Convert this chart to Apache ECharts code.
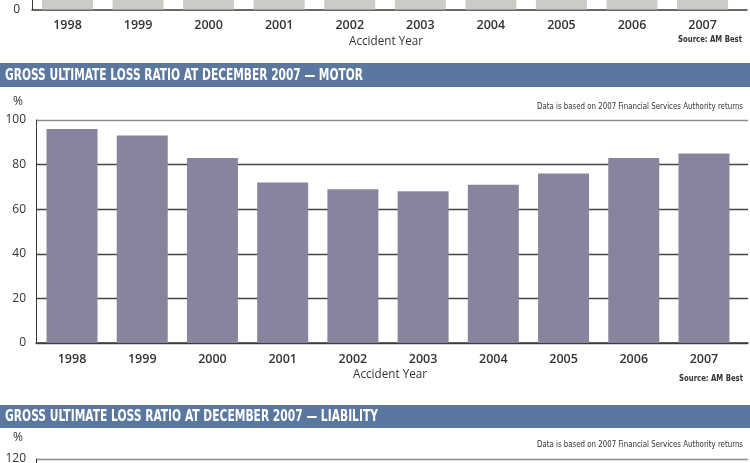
<!DOCTYPE html>
<html>
<head>
<meta charset="utf-8">
<script src="https://cdn.jsdelivr.net/npm/echarts@6/dist/echarts.min.js"></script>
<style>
html,body{margin:0;padding:0;background:#fff;}
#main{width:750px;height:463px;}
</style>
</head>
<body>
<div id="main"></div>
<script>
// ---- data ----
const years = ['1998','1999','2000','2001','2002','2003','2004','2005','2006','2007'];
// previous chart (only its base is visible in the picture; values estimated)
const prevLoss = [70, 72, 68, 62, 58, 60, 63, 66, 70, 72];
// Gross ultimate loss ratio at December 2007 - Motor (%)
const motorLoss = [96, 93, 83, 72, 69, 68, 71, 76, 83, 85];
const motorTicks = [0, 20, 40, 60, 80, 100];
const liabilityTicks = [0, 20, 40, 60, 80, 100, 120];

const titleMotor = 'GROSS ULTIMATE LOSS RATIO AT DECEMBER 2007 — MOTOR';
const titleLiability = 'GROSS ULTIMATE LOSS RATIO AT DECEMBER 2007 — LIABILITY';
const noteText = 'Data is based on 2007 Financial Services Authority returns';
const sourceText = 'Source: AM Best';
const xName = 'Accident Year';

// ---- styles ----
const narrow = "'Liberation Sans Narrow','DejaVu Sans Condensed','Open Sans',sans-serif";
const body = "'Open Sans','Noto Sans',sans-serif";
const dark = '#333';
const headerBlue = '#5a789f';
const barPurple = '#8a839e';
const barGrey = '#c9cdc6';

const yearNums = years.map(Number);
function pairs(vals){ return yearNums.map((y,i)=>[y, vals[i]]); }
function splitColors(n){ const a=[]; for(let i=0;i<n;i++) a.push(i===n-1?'#8c8c8c':'#454545'); return a; }

const mctx = document.createElement('canvas').getContext('2d');
function fitText(text, x, y, align, font, fill, targetW){
  mctx.font = font;
  const w = mctx.measureText(text).width;
  const s = targetW ? targetW / w : 1;
  return {type:'text', x:x, y:y, scaleX:s, scaleY:1, silent:true,
    style:{text:text, x:0, y:0, align:align, verticalAlign:'middle', font:font, fill:fill}};
}

const chart = echarts.init(document.getElementById('main'), null, {renderer:'canvas'});

const xLabel = {
  customValues: yearNums,
  formatter: v => years[yearNums.indexOf(Math.round(v))] || '',
  color: dark, fontFamily: body, fontSize: 12.5, fontWeight: 600
};

chart.setOption({
  animation: false,
  backgroundColor: '#fff',
  grid: [
    {left: 32, right: 3, top: -213.5, height: 223, outerBoundsMode:'none', containLabel:false},
    {left: 36, right: 2, top: 120, height: 223, outerBoundsMode:'none', containLabel:false},
    {left: 36, right: 2, top: 459, height: 223, outerBoundsMode:'none', containLabel:false}
  ],
  xAxis: [
    {gridIndex:0, type:'value', min:1997.497, max:2007.63,
     axisLine:{show:true, lineStyle:{color:'#3a3a3a', width:1.5}},
     axisTick:{show:false}, splitLine:{show:false},
     axisLabel: Object.assign({margin:9}, xLabel)},
    {gridIndex:1, type:'value', min:1997.487, max:2007.627,
     axisLine:{show:true, lineStyle:{color:'#3a3a3a', width:1.5}},
     axisTick:{show:false}, splitLine:{show:false},
     axisLabel: Object.assign({margin:10}, xLabel)},
    {gridIndex:2, type:'value', min:1997.487, max:2007.627, show:false}
  ],
  yAxis: [
    {gridIndex:0, type:'value', min:0, max:100, interval:20,
     axisLine:{show:true, lineStyle:{color:'#3a3a3a', width:1}},
     axisTick:{show:false}, splitLine:{show:false},
     axisLabel:{margin:12, color:dark, fontFamily:body, fontSize:12, padding:[0,0,3,0]}},
    {gridIndex:1, type:'value', min:motorTicks[0], max:motorTicks[motorTicks.length-1], interval:20,
     axisLine:{show:true, lineStyle:{color:'#3a3a3a', width:1}},
     axisTick:{show:false},
     splitLine:{show:true, lineStyle:{color:splitColors(motorTicks.length), width:1.4}},
     axisLabel:{margin:10, color:dark, fontFamily:body, fontSize:12, padding:[0,0,3,0]}},
    {gridIndex:2, type:'value', min:liabilityTicks[0], max:liabilityTicks[liabilityTicks.length-1], interval:20,
     axisLine:{show:true, lineStyle:{color:'#3a3a3a', width:1}},
     axisTick:{show:false},
     splitLine:{show:true, lineStyle:{color:splitColors(liabilityTicks.length), width:1.4}},
     axisLabel:{margin:10, color:dark, fontFamily:body, fontSize:12, padding:[0,0,8,0]}}
  ],
  series: [
    {type:'bar', xAxisIndex:0, yAxisIndex:0, data:pairs(prevLoss), barWidth:51,
     itemStyle:{color:barGrey}, silent:true},
    {type:'bar', xAxisIndex:1, yAxisIndex:1, data:pairs(motorLoss), barWidth:51,
     itemStyle:{color:barPurple}, silent:true}
  ],
  graphic: [
    // top chart footer
    fitText(xName, 386, 42, 'center', '12px ' + body, dark, 74),
    fitText(sourceText, 742, 40, 'right', 'bold 9px ' + narrow, dark, 64),
    // motor header
    {type:'rect', shape:{x:0, y:63, width:750, height:24}, style:{fill:headerBlue}, silent:true},
    fitText(titleMotor, 5, 76, 'left', 'bold 15px ' + narrow, '#fff', 358),
    fitText(noteText, 743, 107, 'right', '9px ' + narrow, dark, 206),
    fitText('%', 18, 102, 'center', '12px ' + body, dark),
    // motor footer
    fitText(xName, 390, 375, 'center', '12px ' + body, dark, 74),
    fitText(sourceText, 743, 379, 'right', 'bold 9px ' + narrow, dark, 64),
    // liability header
    {type:'rect', shape:{x:0, y:405, width:750, height:23}, style:{fill:headerBlue}, silent:true},
    fitText(titleLiability, 5, 417, 'left', 'bold 15px ' + narrow, '#fff', 373),
    fitText(noteText, 743, 445, 'right', '9px ' + narrow, dark, 206),
    fitText('%', 18, 438, 'center', '12px ' + body, dark)
  ]
});
</script>
</body>
</html>
